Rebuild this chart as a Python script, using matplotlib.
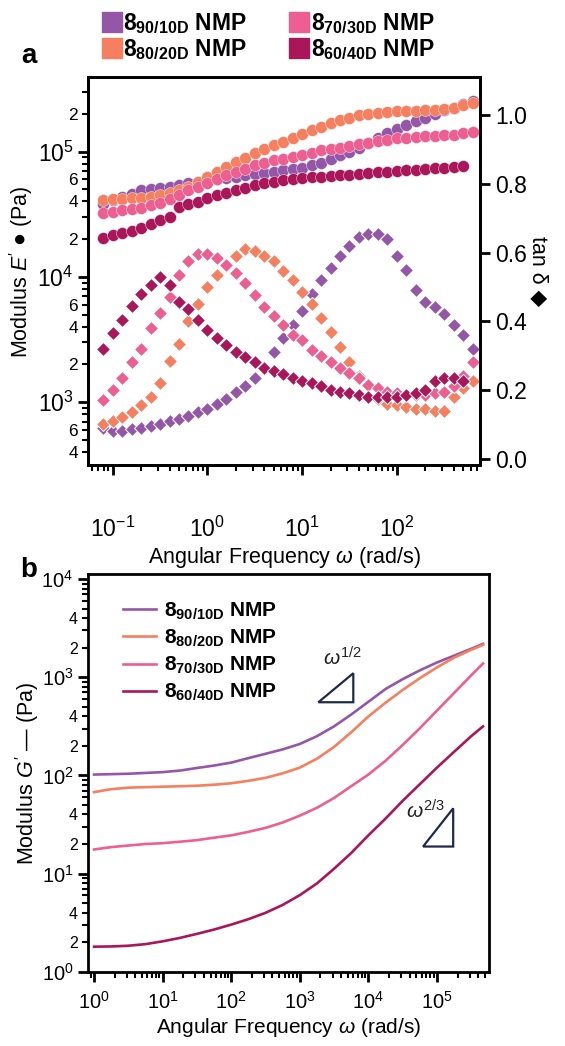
import matplotlib
matplotlib.use("Agg")
import matplotlib.pyplot as plt
import numpy as np
from matplotlib.lines import Line2D
from matplotlib.patches import Polygon
from matplotlib.ticker import LogLocator, FuncFormatter, NullFormatter, MultipleLocator

plt.rcParams['font.family'] = ['Liberation Sans', 'DejaVu Sans']
plt.rcParams['mathtext.fontset'] = 'custom'
plt.rcParams['mathtext.rm'] = 'Liberation Sans'
plt.rcParams['mathtext.it'] = 'Liberation Sans:italic'
plt.rcParams['mathtext.bf'] = 'Liberation Sans:bold'

# ---------------- data, panel a (frequency sweep) ----------------
omega = [0.0794, 0.1, 0.126, 0.158, 0.2, 0.251, 0.316, 0.398, 0.501, 0.631,
         0.794, 1.0, 1.26, 1.58, 2.0, 2.51, 3.16, 3.98, 5.01, 6.31,
         7.94, 10, 12.6, 15.8, 20, 25.1, 31.6, 39.8, 50.1, 63.1,
         79.4, 100, 126, 158, 200, 251, 316, 398, 501, 631]

# E' in kPa
e_90 = [38.0, 40.7, 43.7, 45.7, 49.0, 50.1, 51.3, 52.5, 53.7, 56.2,
        57.5, 58.9, 60.3, 61.7, 63.1, 64.6, 66.1, 67.6, 69.2, 70.8,
        72.4, 74.1, 77.6, 81.3, 87.1, 93.3, 100, 107, 117, 129,
        141, 151, 162, 174, 186, 200, 214, 224, 240, 251]
e_80 = [40.7, 41.7, 41.7, 42.7, 42.7, 43.7, 44.7, 46.8, 49.0, 52.5,
        57.5, 63.1, 69.2, 75.9, 83.2, 89.1, 97.7, 105, 112, 120,
        129, 138, 148, 158, 170, 178, 186, 195, 200, 204,
        207, 209, 209, 211, 214, 214, 219, 224, 234, 245]
e_70 = [32.4, 33.1, 33.9, 34.7, 35.5, 37.2, 38.9, 41.7, 44.7, 49.0,
        52.5, 56.2, 60.3, 64.6, 69.2, 72.4, 77.6, 81.3, 85.1, 87.1,
        91.2, 93.3, 97.7, 102, 105, 107, 111, 115, 117, 122,
        124, 127, 129, 130, 132, 133, 135, 136, 140, 143]
e_60 = [20.4, 21.4, 22.4, 23.4, 24.5, 26.3, 28.2, 30.2, 36.3, 38.0,
        39.8, 42.7, 44.7, 46.8, 49.0, 51.3, 53.7, 56.2, 57.5, 58.9,
        60.3, 61.7, 62.4, 63.1, 63.8, 64.6, 65.3, 66.1, 67.6, 68.4,
        69.2, 70.0, 70.8, 71.6, 72.4, 73.3, 74.1, 75.9, 76.7]

tan_90 = [0.09, 0.08, 0.08, 0.085, 0.09, 0.095, 0.10, 0.11, 0.115, 0.125,
          0.135, 0.145, 0.16, 0.175, 0.195, 0.21, 0.235, 0.26, 0.31, 0.35,
          0.39, 0.43, 0.48, 0.52, 0.555, 0.59, 0.62, 0.645, 0.655, 0.655,
          0.64, 0.59, 0.55, 0.49, 0.455, 0.44, 0.42, 0.39, 0.36, 0.32]
tan_80 = [0.10, 0.11, 0.12, 0.135, 0.155, 0.18, 0.22, 0.285, 0.335, 0.40,
          0.45, 0.50, 0.535, 0.56, 0.59, 0.61, 0.605, 0.59, 0.575, 0.545,
          0.52, 0.485, 0.45, 0.41, 0.37, 0.325, 0.28, 0.24, 0.21, 0.175,
          0.16, 0.155, 0.15, 0.145, 0.145, 0.14, 0.14, 0.18, 0.205, 0.225]
tan_70 = [0.17, 0.20, 0.235, 0.28, 0.32, 0.38, 0.425, 0.47, 0.535, 0.575,
          0.595, 0.595, 0.585, 0.565, 0.54, 0.51, 0.475, 0.44, 0.415, 0.39,
          0.36, 0.345, 0.315, 0.30, 0.28, 0.265, 0.25, 0.235, 0.215, 0.205,
          0.195, 0.19, 0.185, 0.185, 0.185, 0.19, 0.195, 0.21, 0.24, 0.28]
tan_60 = [0.32, 0.365, 0.405, 0.445, 0.48, 0.505, 0.53, 0.505, 0.455, 0.435,
          0.405, 0.375, 0.35, 0.33, 0.31, 0.295, 0.28, 0.265, 0.255, 0.245,
          0.235, 0.225, 0.22, 0.21, 0.20, 0.195, 0.19, 0.185, 0.18, 0.18,
          0.18, 0.18, 0.185, 0.19, 0.20, 0.225, 0.235, 0.235, 0.225]

# ---------------- data, panel b (master curves) ----------------
omega_b = [1, 1.78, 3.16, 5.62, 10, 17.8, 31.6, 56.2, 100, 178, 316, 562,
           1e3, 1.78e3, 3.16e3, 5.62e3, 1e4, 1.78e4, 3.16e4, 5.62e4,
           1e5, 1.78e5, 3.16e5, 4.7e5]
g_90 = [102, 103, 104, 106, 108, 112, 119, 126, 135, 150, 166, 184,
        209, 251, 316, 417, 562, 759, 955, 1175, 1413, 1660, 1950, 2188]
g_80 = [67.6, 72.4, 75.0, 75.9, 76.7, 77.6, 78.5, 80.4, 83.2, 88.1, 94.4, 105,
        120, 148, 195, 275, 398, 550, 741, 977, 1259, 1585, 1905, 2138]
g_70 = [17.6, 18.6, 19.3, 20.0, 20.4, 21.1, 21.9, 23.2, 24.5, 26.6, 29.2, 33.1,
        38.9, 46.8, 58.9, 77.6, 102, 141, 204, 302, 457, 692, 1047, 1380]
g_60 = [1.80, 1.81, 1.84, 1.91, 2.04, 2.21, 2.43, 2.69, 3.02, 3.43, 3.98, 4.79,
        6.03, 7.94, 11.2, 16.2, 24.5, 36.3, 55.0, 81.3, 120, 174, 251, 316]

labels = [r'$\mathbf{8_{90/10D}}$ NMP', r'$\mathbf{8_{80/20D}}$ NMP',
          r'$\mathbf{8_{70/30D}}$ NMP', r'$\mathbf{8_{60/40D}}$ NMP']
colors = ['#9457a8', '#f57f5e', '#ec5f90', '#a9165a']

fig = plt.figure(figsize=(5.65, 10.46), dpi=100)

# ===== panel a =====
ax = fig.add_axes([0.156, 0.555, 0.694, 0.371])
ax2 = ax.twinx()
e_all = [e_90, e_80, e_70, e_60]
t_all = [tan_90, tan_80, tan_70, tan_60]
for e, t, c in zip(e_all, t_all, colors):
    n = len(e)
    ax.plot(omega[:n], np.array(e) * 1000, 'o', color=c, ms=8.6, mec='white', mew=0.3)
    ax2.plot(omega[:n], t, 'D', color=c, ms=7.0, mec='white', mew=0.7)

ax.set_xscale('log')
ax.set_yscale('log')
ax.set_xlim(0.055, 760)
ax.set_ylim(313, 3.9e5)
ax2.set_ylim(-0.02, 1.11)
ax2.yaxis.set_major_locator(MultipleLocator(0.2))
ax2.yaxis.set_major_formatter(FuncFormatter(lambda v, p: '%.1f' % v))


def dec_fmt(v, p):
    return r'$10^{%d}$' % int(round(np.log10(v)))


def minor_fmt(keep):
    def f(v, p):
        m = v / 10 ** np.floor(np.log10(v) + 1e-9)
        k = int(round(m))
        return str(k) if k in keep and abs(m - k) < 0.01 else ''
    return f


ax.xaxis.set_major_locator(LogLocator(base=10, numticks=20))
ax.xaxis.set_minor_locator(LogLocator(base=10, subs=np.arange(2, 10), numticks=20))
ax.xaxis.set_major_formatter(FuncFormatter(dec_fmt))
ax.xaxis.set_minor_formatter(NullFormatter())
ax.yaxis.set_major_locator(LogLocator(base=10, numticks=20))
ax.yaxis.set_minor_locator(LogLocator(base=10, subs=np.arange(2, 10), numticks=20))
ax.yaxis.set_major_formatter(FuncFormatter(dec_fmt))
ax.yaxis.set_minor_formatter(FuncFormatter(minor_fmt((2, 4, 6))))

for a in (ax, ax2):
    for s in a.spines.values():
        s.set_linewidth(2)
ax.tick_params(which='major', length=7, width=2, labelsize=16.5)
ax.tick_params(which='minor', length=4, width=1.5, labelsize=12.5)
ax.tick_params(axis='x', which='major', pad=30)
ax2.tick_params(which='major', length=7, width=2, labelsize=16.5)

ax.set_xlabel(r'Angular Frequency $\omega$ (rad/s)', fontsize=15.5, labelpad=2)
ax.set_ylabel(r"Modulus $E'$ ● (Pa)", fontsize=15.5, labelpad=2)
ax2.set_ylabel('tan δ ◆', fontsize=15.5, rotation=270, labelpad=16)

handles = [Line2D([], [], ls='none', marker='s', ms=15, color=c) for c in colors]
fig.legend(handles, labels, ncol=2, loc='center', bbox_to_anchor=(0.475, 0.965),
           frameon=False, prop={'weight': 'bold', 'size': 16.5},
           handlelength=0.8, handletextpad=0.1, columnspacing=1.9, labelspacing=0.05,
           borderpad=0)
fig.text(0.038, 0.946, 'a', fontsize=20, fontweight='bold', ha='left', va='center')

# ===== panel b =====
bx = fig.add_axes([0.156, 0.071, 0.710, 0.380])
g_all = [g_90, g_80, g_70, g_60]
for g, c, lab in zip(g_all, colors, labels):
    bx.plot(omega_b, g, '-', color=c, lw=1.9, label=lab)
bx.set_xscale('log')
bx.set_yscale('log')
bx.set_xlim(0.82, 5.8e5)
bx.set_ylim(1, 1.12e4)
bx.xaxis.set_major_locator(LogLocator(base=10, numticks=20))
bx.xaxis.set_minor_locator(LogLocator(base=10, subs=np.arange(2, 10), numticks=20))
bx.xaxis.set_major_formatter(FuncFormatter(dec_fmt))
bx.xaxis.set_minor_formatter(NullFormatter())
bx.yaxis.set_major_locator(LogLocator(base=10, numticks=20))
bx.yaxis.set_minor_locator(LogLocator(base=10, subs=np.arange(2, 10), numticks=20))
bx.yaxis.set_major_formatter(FuncFormatter(dec_fmt))
bx.yaxis.set_minor_formatter(FuncFormatter(minor_fmt((2, 4))))
for s in bx.spines.values():
    s.set_linewidth(2)
bx.tick_params(which='major', length=7, width=2, labelsize=14.5)
bx.tick_params(which='minor', length=4, width=1.5, labelsize=11.5)
bx.tick_params(axis='x', which='major', pad=7)
bx.set_xlabel(r'Angular Frequency $\omega$ (rad/s)', fontsize=15, labelpad=2)
bx.set_ylabel(r"Modulus $G'$ — (Pa)", fontsize=15.5, labelpad=0)
bx.legend(loc='upper left', bbox_to_anchor=(0.06, 0.96), frameon=False,
          prop={'weight': 'bold', 'size': 15}, handlelength=1.6,
          handletextpad=0.4, labelspacing=0.28, borderpad=0)

# slope triangles
navy = '#1c2b4a'
bx.add_patch(Polygon([[0.574, 0.678], [0.661, 0.678], [0.661, 0.751]], closed=True,
                     fill=False, ec=navy, lw=1.6, transform=bx.transAxes))
bx.add_patch(Polygon([[0.835, 0.315], [0.910, 0.315], [0.910, 0.411]], closed=True,
                     fill=False, ec=navy, lw=1.6, transform=bx.transAxes))
bx.text(0.635, 0.79, r'$\omega^{1/2}$', transform=bx.transAxes, fontsize=15,
        ha='center', va='center', color='#222222')
bx.text(0.84, 0.405, r'$\omega^{2/3}$', transform=bx.transAxes, fontsize=15,
        ha='center', va='center', color='#222222')
fig.text(0.035, 0.455, 'b', fontsize=20, fontweight='bold', ha='left', va='center')

fig.savefig('out.png', dpi=100)
